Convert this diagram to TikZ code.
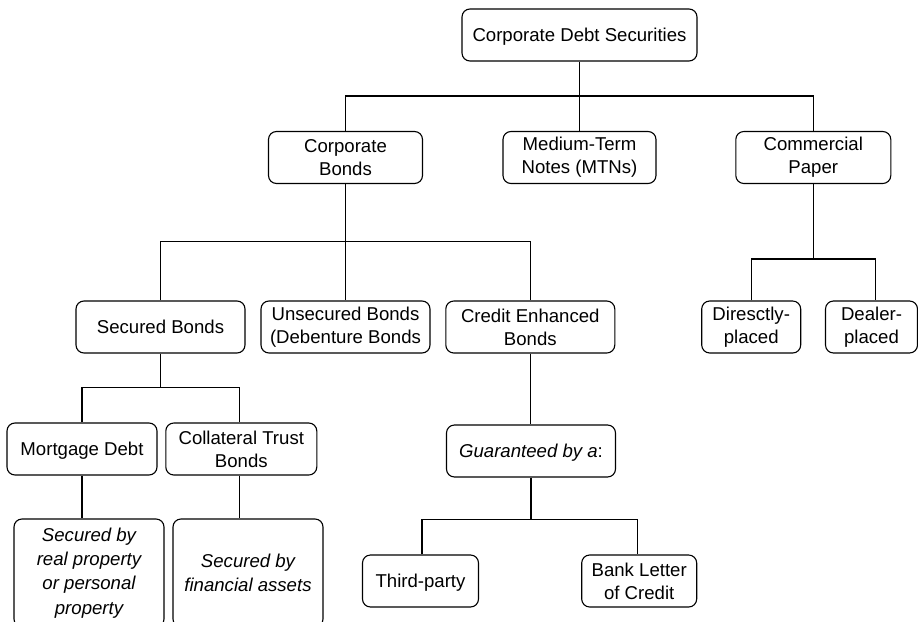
\documentclass[tikz,border=0pt]{standalone}
\usepackage{fontspec}
\setmainfont{Liberation Sans}
\begin{document}
\begin{tikzpicture}[x=1pt,y=-1pt,
  box/.style={draw, rounded corners=8pt, line width=1.1pt, align=center, inner sep=0pt,
    font=\fontsize{18.6}{22.8}\selectfont, minimum height=52pt},
  single/.style={text depth=0pt},
  conn/.style={line width=1.1pt}]
\useasboundingbox (0,0) rectangle (918,621);
% level 0
\node[box, single, minimum width=235pt] (top) at (579.5,35) {Corporate Debt Securities};
% level 1
\node[box, minimum width=154pt] (cb) at (345.5,157.5) {Corporate\\Bonds};
\node[box, minimum width=153pt] (mtn) at (579.5,157.5) {Medium-Term\\Notes (MTNs)};
\node[box, minimum width=155pt] (cp) at (813.3,157.5) {Commercial\\Paper};
% level 2
\node[box, single, minimum width=169pt] (sb) at (160.5,327) {Secured Bonds};
\node[box, minimum width=169pt] (ub) at (345.5,327) {Unsecured Bonds\\(Debenture Bonds};
\node[box, minimum width=169pt] (ceb) at (530.3,327) {Credit Enhanced\\Bonds};
\node[box, minimum width=99pt] (dp) at (751.2,327) {Diresctly-\\placed};
\node[box, minimum width=92pt] (dl) at (871.5,327) {Dealer-\\placed};
% level 3
\node[box, single, minimum width=150pt] (md) at (82,449) {Mortgage Debt};
\node[box, minimum width=151pt] (ctb) at (241.3,449) {Collateral Trust\\Bonds};
\node[box, single, minimum width=169pt] (gua) at (531,451) {\textit{Guaranteed by a}:};
% level 4
\node[box, minimum width=150pt, minimum height=108pt, font=\fontsize{18.6}{24.2}\selectfont\itshape] (s1) at (89,573)
  {Secured by\\real property\\or personal\\property};
\node[box, minimum width=150pt, minimum height=108pt, font=\fontsize{18.6}{24.2}\selectfont\itshape] (s2) at (248,573)
  {Secured by\\financial assets};
\node[box, single, minimum width=116pt] (tp) at (420.5,581) {Third-party};
\node[box, minimum width=115pt] (blc) at (639.2,581) {Bank Letter\\of Credit};
% connectors
\coordinate (j0) at (579.5,96);
\draw[conn] (top.south) -- (j0);
\draw[conn] (cb.north) |- (j0) -| (cp.north);
\draw[conn] (j0) -- (mtn.north);
\coordinate (j1) at (345.5,241.7);
\draw[conn] (cb.south) -- (j1);
\draw[conn] (sb.north) |- (j1) -| (ceb.north);
\draw[conn] (j1) -- (ub.north);
\coordinate (j2) at (160.5,387.7);
\draw[conn] (sb.south) -- (j2);
\draw[conn] (md.north) |- (j2) -| ([xshift=-2pt]ctb.north);
\draw[conn] (md.south) -- (md.south |- s1.north);
\draw[conn] ([xshift=-2pt]ctb.south) -- ([xshift=-2pt]ctb.south |- s2.north);
\draw[conn] (ceb.south) -- (ceb.south |- gua.north);
\coordinate (j3) at (531,519.3);
\draw[conn] (gua.south) -- (j3);
\draw[conn] ([xshift=1.5pt]tp.north) |- (j3) -| ([xshift=-2pt]blc.north);
\coordinate (j4) at (813.3,259);
\draw[conn] (cp.south) -- (j4);
\draw[conn] (dp.north) |- (j4) -| ([xshift=4pt]dl.north);
\end{tikzpicture}
\end{document}
